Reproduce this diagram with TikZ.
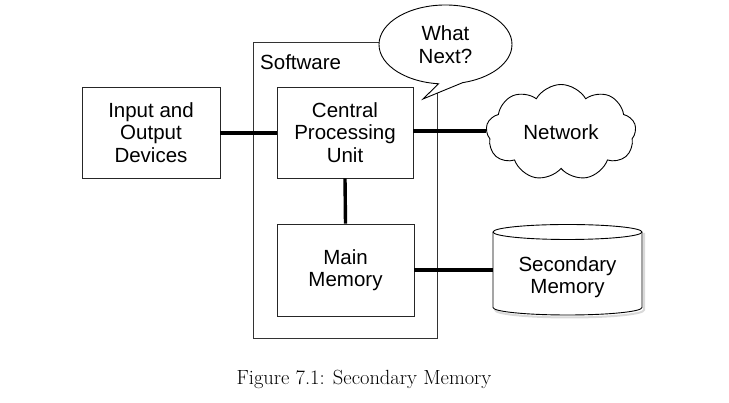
\documentclass[tikz,border=0pt]{standalone}
\usepackage{fontspec}
\newfontfamily\hv{Liberation Sans}
\usetikzlibrary{shapes.symbols}
\begin{document}
\begin{tikzpicture}[x=1pt,y=1pt,
  lbl/.style={font=\hv\fontsize{20.5}{22.5}\selectfont, align=center},
  boxnode/.style={lbl, draw=black!85, line width=0.9pt, fill=white, inner sep=0pt},
  link/.style={line width=3.4pt, black}]
\useasboundingbox (0,0) rectangle (729,403);
% software frame
\node[draw=black!80, line width=0.9pt, minimum width=184, minimum height=296, inner sep=0pt] (sw) at (345,213) {};
\node[lbl, anchor=west, inner sep=0pt] (swl) at (260,341) {Software};
% boxes
\node[boxnode, minimum width=138, minimum height=91] (io) at (151,270.5) {Input and\\Output\\Devices};
\node[boxnode, minimum width=136, minimum height=91] (cpu) at (345,270.5) {Central\\Processing\\Unit};
\node[boxnode, minimum width=137, minimum height=92] (mm) at (345.5,133) {Main\\Memory};
% cloud
\node[cloud, draw=black, line width=0.9pt, fill=white, cloud puffs=9, cloud puff arc=120, aspect=1.6,
  minimum width=150, minimum height=96, inner sep=0pt, lbl] (net) at (561,270.5) {Network};
% cylinder
\coordinate (sm) at (567.5,133.5);
\draw[black!15, line width=2pt] (495,93) arc[start angle=180, end angle=360, x radius=74.5, y radius=7.5] -- (644,170);
\draw[line width=0.9pt, fill=white] (493,171) -- (493,95.5) arc[start angle=180, end angle=360, x radius=74.5, y radius=7.5] -- (642,171) arc[start angle=0, end angle=180, x radius=74.5, y radius=7.5] -- cycle;
\draw[line width=0.9pt] (493,171) arc[start angle=180, end angle=360, x radius=74.5, y radius=7.5];
\node[lbl, inner sep=0pt] (smt) at (567.5,126) {Secondary\\Memory};
% connectors
\draw[link] (io.east |- 0,270) -- (cpu.west |- 0,270);
\draw[link] (cpu.east |- 0,272) -- (net.west |- 0,272);
\draw[link] (cpu.south) -- (mm.north);
\draw[link] (mm.east |- 0,133) -- (493,133);
% speech bubble
\coordinate (bubc) at (445.5,358.5);
\coordinate (tip) at (423,304);
\draw[line width=0.9pt, fill=white] (bubc) ++(264:66.5 and 39.5) arc[start angle=264, end angle=-75, x radius=66.5, y radius=39.5] -- (tip) -- cycle;
\node[lbl, inner sep=0pt] (bub) at (bubc) {What\\Next?};
% caption
\node[font=\fontsize{20.5}{22}\selectfont, inner sep=0pt] (cap) at (364,24) {Figure 7.1: Secondary Memory};
\end{tikzpicture}
\end{document}
